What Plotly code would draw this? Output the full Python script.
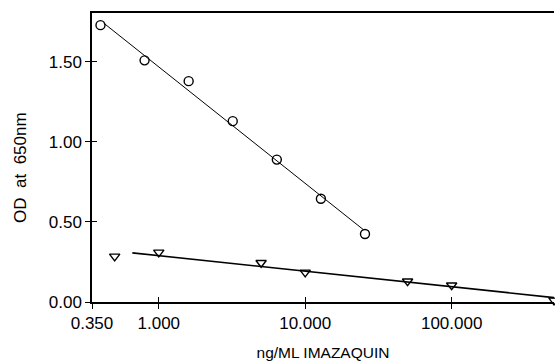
import numpy as np
import plotly.graph_objects as go

# Data
conc_circle = [0.4, 0.8, 1.6, 3.2, 6.4, 12.8, 25.6]
od_circle = [1.73, 1.51, 1.38, 1.13, 0.89, 0.645, 0.425]
fit_circle_x = [0.42, 25.0]

conc_tri = [0.5, 1.0, 5.0, 10.0, 50.0, 100.0, 500.0]
od_tri = [0.285, 0.31, 0.245, 0.185, 0.13, 0.105, 0.01]
fit_tri_x = [0.66, 500.0]

x_tickvals = [0.35, 1, 10, 100]
x_ticktext = ["0.350", "1.000", "10.000", "100.000"]
y_tickvals = [0, 0.5, 1.0, 1.5]
y_ticktext = ["0.00", "0.50", "1.00", "1.50"]


def fit_line(xs, ys, xr):
    m, b = np.polyfit(np.log10(xs), ys, 1)
    xr = np.array(xr)
    return xr, m * np.log10(xr) + b


fx1, fy1 = fit_line(conc_circle, od_circle, fit_circle_x)
fx2, fy2 = fit_line(conc_tri, od_tri, fit_tri_x)

fig = go.Figure()
fig.add_trace(go.Scatter(x=fx1, y=fy1, mode="lines",
                         line=dict(color="black", width=1), showlegend=False))
fig.add_trace(go.Scatter(x=fx2, y=fy2, mode="lines",
                         line=dict(color="black", width=1.6), showlegend=False))
fig.add_trace(go.Scatter(x=conc_circle, y=od_circle, mode="markers",
                         marker=dict(symbol="circle-open", size=9, color="black",
                                     line=dict(width=1.4)), showlegend=False))
fig.add_trace(go.Scatter(x=conc_tri, y=od_tri, mode="markers",
                         marker=dict(symbol="triangle-down-open", size=9, color="black",
                                     line=dict(width=1.4)), showlegend=False, cliponaxis=False))
# dummy trace for overlay axes (inside ticks)
fig.add_trace(go.Scatter(x=[1], y=[0.5], mode="markers", xaxis="x2", yaxis="y2",
                         marker=dict(opacity=0), showlegend=False, hoverinfo="skip"))

xr = [np.log10(0.35), np.log10(500)]
yr = [0, 1.806]
font = dict(family="Liberation Sans", size=17, color="black")

fig.update_layout(
    width=555, height=364,
    margin=dict(l=92, r=1, t=13, b=62),
    paper_bgcolor="white", plot_bgcolor="white",
    font=font,
    xaxis=dict(type="log", range=xr, tickvals=x_tickvals, ticktext=x_ticktext,
               ticks="outside", ticklen=5, tickwidth=1, tickcolor="black",
               showline=True, linecolor="black", linewidth=1.5, mirror=True,
               showgrid=False, zeroline=False, tickfont=font, automargin=False,
               title=dict(text="ng/ML IMAZAQUIN", font=dict(family="Liberation Sans", size=15.5, color="black"))),
    yaxis=dict(range=yr, tickvals=y_tickvals, ticktext=y_ticktext,
               ticks="outside", ticklen=5, tickwidth=1, tickcolor="black",
               showline=True, linecolor="black", linewidth=1.5,
               showgrid=False, zeroline=False, tickfont=font, automargin=False),
    xaxis2=dict(type="log", range=xr, overlaying="x", anchor="y2", tickvals=x_tickvals,
                ticks="inside", ticklen=5, tickwidth=1, tickcolor="black", automargin=False,
                showticklabels=False, showline=False, showgrid=False, zeroline=False),
    yaxis2=dict(range=yr, overlaying="y", anchor="x2", tickvals=y_tickvals,
                ticks="inside", ticklen=5, tickwidth=1, tickcolor="black", automargin=False,
                showticklabels=False, showline=False, showgrid=False, zeroline=False),
    annotations=[dict(text="OD\u00a0\u00a0at\u00a0\u00a0650nm", textangle=-90,
                      xref="paper", yref="paper", x=0, y=0.464, xshift=-71,
                      xanchor="center", yanchor="middle", showarrow=False,
                      font=dict(family="Liberation Sans", size=17, color="black"))],
)

fig.write_html("out.html", config={"displayModeBar": False},
               post_script="document.body.style.margin='0';document.body.style.overflow='hidden';")
